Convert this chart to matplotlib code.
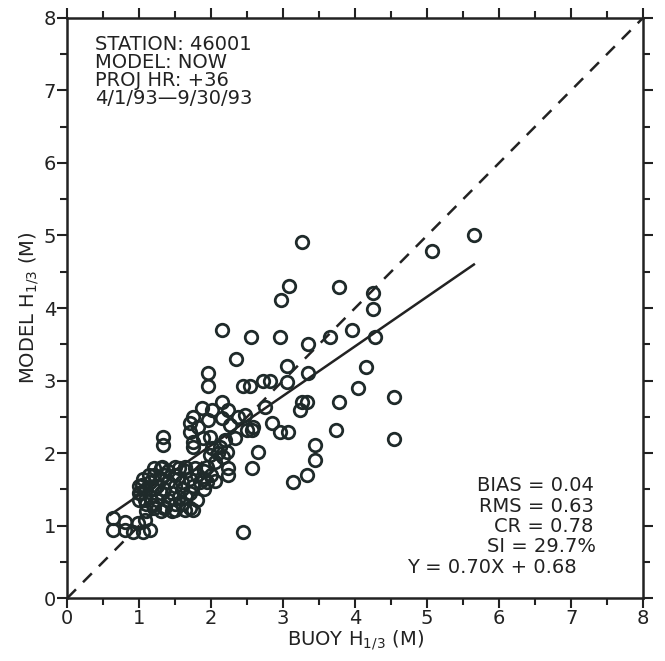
import numpy as np
import matplotlib
matplotlib.use("Agg")
import matplotlib.pyplot as plt

# buoy (x) vs model (y) significant wave height
buoy = [5.65, 5.07, 3.26, 3.08, 2.97, 3.78, 4.25, 4.25,
        2.15, 2.55, 2.96, 3.35, 3.65, 3.96, 4.28,
        2.35, 1.96, 1.96, 3.06, 3.06, 2.44, 2.54, 2.72, 2.82, 3.35, 4.15, 4.04, 3.78, 4.54, 4.54, 3.74,
        3.26, 3.33, 3.24,
        2.75, 2.85, 2.96, 3.07, 2.57, 2.65, 2.57,
        3.44, 3.44, 3.33, 3.14, 2.44,
        2.24, 2.24, 2.13, 2.17, 1.99, 1.99,
        2.15, 1.88, 2.01, 2.24, 1.75, 2.38, 1.71, 1.82, 1.96, 2.15, 2.26, 2.47, 2.58, 1.71, 1.89, 2.33, 2.50,
        1.33, 1.33, 1.75, 1.75, 2.19, 2.01, 2.10, 2.22, 2.06, 1.94, 1.94,
        0.64, 0.63, 0.80, 0.92, 1.06, 1.15, 0.80, 0.99, 1.08,
        1.50, 1.64, 1.75, 1.36, 1.32, 1.50, 1.64, 1.78, 1.13, 1.04, 1.01, 1.08, 1.19,
        1.00, 1.00, 1.05, 1.10, 1.10, 1.15, 1.15, 1.20, 1.20, 1.20, 1.25, 1.25, 1.30, 1.30, 1.30,
        1.35, 1.35, 1.40, 1.40, 1.40, 1.45, 1.50, 1.50, 1.50, 1.55, 1.60, 1.60, 1.65, 1.70, 1.70,
        1.75, 1.80, 1.80, 1.85, 1.90, 1.90, 1.30, 1.45, 1.60, 1.70, 1.55, 1.20, 1.00, 1.10, 1.35,
        1.65, 1.90, 2.00, 2.05]
model = [5.00, 4.79, 4.91, 4.30, 4.11, 4.29, 4.21, 3.98,
         3.70, 3.60, 3.60, 3.50, 3.60, 3.70, 3.60,
         3.30, 3.10, 2.92, 3.20, 2.98, 2.92, 2.92, 3.00, 3.00, 3.10, 3.19, 2.90, 2.70, 2.77, 2.20, 2.32,
         2.70, 2.70, 2.60,
         2.63, 2.41, 2.29, 2.29, 2.32, 2.01, 1.79,
         2.11, 1.90, 1.70, 1.60, 0.91,
         1.79, 1.70, 2.08, 1.94, 2.22, 1.97,
         2.70, 2.62, 2.59, 2.59, 2.50, 2.50, 2.41, 2.36, 2.46, 2.48, 2.39, 2.52, 2.36, 2.29, 2.21, 2.21, 2.32,
         2.22, 2.11, 2.15, 2.08, 2.18, 2.07, 2.00, 2.01, 1.88, 1.81, 1.60,
         1.10, 0.94, 0.94, 0.91, 0.91, 0.94, 1.05, 1.03, 1.08,
         1.21, 1.21, 1.21, 1.26, 1.81, 1.81, 1.81, 1.79, 1.70, 1.56, 1.45, 1.35, 1.28,
         1.45, 1.55, 1.65, 1.30, 1.50, 1.40, 1.60, 1.25, 1.50, 1.70, 1.35, 1.55, 1.45, 1.65, 1.80,
         1.25, 1.50, 1.35, 1.60, 1.75, 1.45, 1.55, 1.30, 1.70, 1.40, 1.60, 1.50, 1.75, 1.45, 1.65,
         1.55, 1.70, 1.35, 1.60, 1.75, 1.50, 1.20, 1.20, 1.30, 1.25, 1.80, 1.80, 1.35, 1.20, 1.70,
         1.40, 1.65, 1.70, 1.62]

# regression line as drawn
fit_x = [0.60, 5.65]
fit_y = [1.15, 4.60]

header = ["STATION: 46001", "MODEL: NOW", "PROJ HR: +36", "4/1/93\u20149/30/93"]
stats = ["BIAS = 0.04", "RMS = 0.63", "CR = 0.78", "SI = 29.7%", "Y = 0.70X + 0.68"]

plt.rcParams['font.family'] = ['DejaVu Sans']
fig = plt.figure(figsize=(6.65, 6.61), dpi=100)
ax = fig.add_axes([0.101, 0.095, 0.866, 0.878])

ax.plot([0, 8], [0, 8], color='#222222', lw=1.8, ls=(0, (5, 4)))
ax.plot(fit_x, fit_y, color='#222222', lw=1.8)
ax.plot(buoy, model, 'o', ms=9, mfc='none', mec='#1f2a2a', mew=2.0)

ax.set_xlim(0, 8)
ax.set_ylim(0, 8)
ax.set_xticks(range(9))
ax.set_yticks(range(9))
ax.set_xticks(np.arange(0.5, 8, 1), minor=True)
ax.set_yticks(np.arange(0.5, 8, 1), minor=True)
ax.tick_params(which='both', direction='out', width=1.5, labelsize=14, colors='#222222',
               top=True, right=True, pad=1)
ax.tick_params(which='major', length=7)
ax.tick_params(which='minor', length=5)
for s in ax.spines.values():
    s.set_linewidth(1.8)
    s.set_color('#222222')

ax.set_xlabel('BUOY H$_{1/3}$ (M)', fontsize=14, color='#222222', labelpad=0)
ax.set_ylabel('MODEL H$_{1/3}$ (M)', fontsize=14, color='#222222', labelpad=2)

for i, t in enumerate(header):
    ax.text(0.39, 7.63 - i * 0.245, t, fontsize=14, va='center', ha='left', color='#222222')

right_x = [7.31, 7.31, 7.31, 7.34, 7.08]
for i, t in enumerate(stats):
    ax.text(right_x[i], 1.55 - i * 0.28, t, fontsize=14, va='center', ha='right', color='#222222')

fig.savefig('out.png', dpi=100)
